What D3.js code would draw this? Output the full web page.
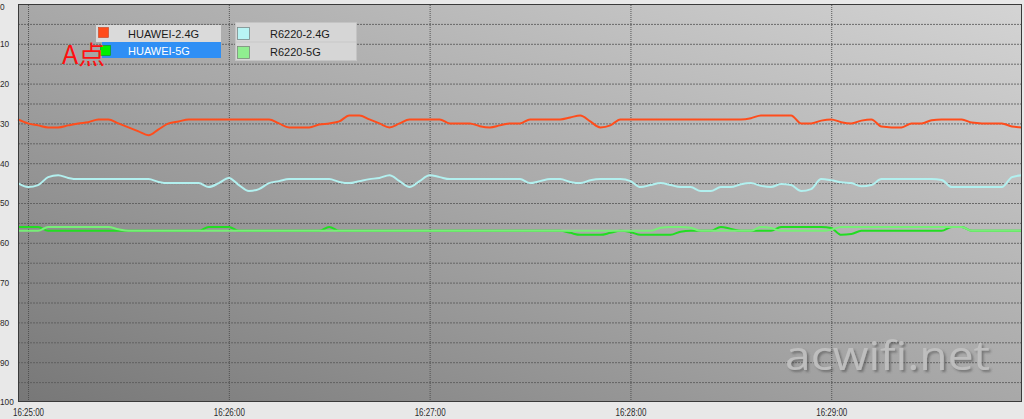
<!DOCTYPE html>
<html>
<head>
<meta charset="utf-8">
<script src="https://cdn.jsdelivr.net/npm/d3@7"></script>
<style>
  html, body { margin: 0; padding: 0; background: #e8e8e8; }
  svg { display: block; }
</style>
</head>
<body>
<svg id="chart" width="1024" height="419"></svg>
<script>
// ---------------- data ----------------
const seriesNames = ["HUAWEI-2.4G", "HUAWEI-5G", "R6220-2.4G", "R6220-5G"];
const startTime = "16:24:57";
const sampleSeconds = 3;           // one reading every 3 s
const xTickLabels = ["16:25:00", "16:26:00", "16:27:00", "16:28:00", "16:29:00"];
const yTickLabels = [0, 10, 20, 30, 40, 50, 60, 70, 80, 90, 100];

const huawei24 = [
  29,30,30.5,31,31,30.5,30,29.7,29,29,
  30,31,32,33,31.5,30,29.5,29,29,29,
  29,29,29,29,29,29,30,31,31,31,
  30.3,30,29.5,28,28,29,30,31,30,29,
  29,29,29,30,30,30,30.7,31,30.5,30,
  30,29,29,29,29,28.5,28,29.5,31,30.5,
  29,29,29,29,29,29,29,29,29,29,
  29,29,29,28.7,28,28,28,28,30,30,
  29.3,29,29.7,30,29.3,29,30.8,31,31,30,
  30,29.2,29,29,29,29.8,30,30,30,30.8,31
];
const huawei5 = [
  56,56,56,57,57,57,57,57,57,57,
  57,57,57,57,57,57,57,57,57,56,
  56,56,57,57,57,57,57,57,57,57,
  57,56,57,57,57,57,57,57,57,57,
  57,57,57,57,57,57,57,57,57,57,
  57,57,57,57,57,57.5,58,58,58,57.5,
  57,57.3,58,58,58,58,57.2,57,57,57,
  56,56.5,57,57,57,57,56,56,56,56,
  56,56.3,58,57.8,57,57,57,57,57,57,
  57,57,57,56,56,57,57,57,57,57,57
];
const r6220_24 = [
  45,46,45.5,43.5,43,43.7,44,44,44,44,
  44,44,44,44,44.7,45,45,45,45,46,
  45,43.7,45.5,47,46.5,45,44.5,44,44,44,
  44,44,44.7,45,44.5,44,43.7,43,44.5,46,
  44.5,43,43.5,44,44,44,44,44,44,44,
  44,45,44.5,44,44,44.7,45,44.3,44,44,
  44,44.5,46,45.5,45,45.5,46,46,47,47,
  46,46,45.3,45,45.7,46,45.2,45.5,47,46.5,
  44,44.3,44.8,45,45.8,45.5,44,44,44,44,
  44,44,44.2,46,46,46,46,46,46,43.5,43
];
const r6220_5 = [
  57,57,57,56,56,56,56,56,56,56,
  56.6,57,57,57,57,57,57,57,57,57,
  57,57,57,57,57,57,57,57,57,57,
  57,57,57,57,57,57,57,57,57,57,
  57,57,57,57,57,57,57,57,57,57,
  57,57,57,57,57,57,57,57,57,57,
  57,57,57,57,56.2,56,56,56.2,57,57,
  57,57,57,57,56,56.3,57,57,57,57,
  57,56.7,56,56,56,56,56,56,56,56,
  56,56,56,56,56,57,57,57,57,57,57
];
const seriesValues = [huawei24, huawei5, r6220_24, r6220_5];
const lineColors = ["#ff4d1c", "#22dd22", "#b2f0ef", "#78ee78"];
const swatchColors = ["#ff4a1a", "#00ee00", "#b8f4f4", "#90ee90"];

// ---------------- layout ----------------
const svg = d3.select("#chart");
const W = 1024, H = 419;
const plot = { left: 18, right: 1022, top: 4, bottom: 402 };

const parseT = d3.timeParse("%H:%M:%S");
const t0 = parseT(startTime);
const nPts = huawei24.length;
const t1 = new Date(t0.getTime() + (nPts - 1) * sampleSeconds * 1000);
const times = d3.range(nPts).map(i => new Date(t0.getTime() + i * sampleSeconds * 1000));

const x = d3.scaleTime().domain([t0, t1]).range([plot.left, plot.right]);
const y = d3.scaleLinear().domain([0, 100]).range([plot.top, plot.bottom]);

svg.append("rect").attr("width", W).attr("height", H).attr("fill", "#e8e8e8");

const defs = svg.append("defs");
const grad = defs.append("linearGradient").attr("id", "bg")
  .attr("x1", 0).attr("y1", 1).attr("x2", 1).attr("y2", 0);
grad.append("stop").attr("offset", "0%").attr("stop-color", "#777777");
grad.append("stop").attr("offset", "50%").attr("stop-color", "#a8a8a8");
grad.append("stop").attr("offset", "100%").attr("stop-color", "#d4d4d4");

const shadow = defs.append("filter").attr("id", "wmShadow")
  .attr("x", "-10%").attr("y", "-20%").attr("width", "130%").attr("height", "150%");
shadow.append("feDropShadow").attr("dx", 2).attr("dy", 2).attr("stdDeviation", 1.2)
  .attr("flood-color", "#4a4a4a").attr("flood-opacity", 0.6);

svg.append("rect")
  .attr("x", plot.left).attr("y", plot.top)
  .attr("width", plot.right - plot.left).attr("height", plot.bottom - plot.top)
  .attr("fill", "url(#bg)");

// horizontal grid every 5
const yGrid = d3.axisLeft(y).tickValues(d3.range(5, 100, 5))
  .tickSize(-(plot.right - plot.left)).tickFormat("");
const gy = svg.append("g").attr("transform", `translate(${plot.left},0)`).call(yGrid);
gy.select(".domain").remove();
gy.selectAll("line").attr("stroke", "#5a5a5a").attr("stroke-width", 1)
  .attr("stroke-dasharray", "2,1").attr("opacity", 0.85);

// vertical grid at each minute
const xTicks = xTickLabels.map(s => parseT(s));
const xGrid = d3.axisBottom(x).tickValues(xTicks)
  .tickSize(-(plot.bottom - plot.top)).tickFormat("");
const gx = svg.append("g").attr("transform", `translate(0,${plot.bottom})`).call(xGrid);
gx.select(".domain").remove();
gx.selectAll("line").attr("stroke", "#4a4a4a").attr("stroke-width", 1)
  .attr("stroke-dasharray", "1,1").attr("opacity", 0.9);

// watermark
svg.append("text")
  .attr("x", 785).attr("y", 370)
  .attr("font-family", "'Open Sans', sans-serif")
  .attr("font-size", 40)
  .attr("textLength", 205).attr("lengthAdjust", "spacingAndGlyphs")
  .attr("fill", "#c2c2c2").attr("fill-opacity", 0.9)
  .attr("filter", "url(#wmShadow)")
  .text("acwifi.net");

// lines
const line = d3.line()
  .x((d, i) => x(times[i]))
  .y(d => y(d))
  .curve(d3.curveMonotoneX);

const gLines = svg.append("g");
seriesValues.forEach((vals, k) => {
  gLines.append("path")
    .datum(vals)
    .attr("fill", "none")
    .attr("stroke", lineColors[k])
    .attr("stroke-width", 2)
    .attr("stroke-linejoin", "round")
    .attr("d", line);
});

// plot border
svg.append("rect")
  .attr("x", plot.left + 0.5).attr("y", plot.top + 0.5)
  .attr("width", plot.right - plot.left - 1).attr("height", plot.bottom - plot.top - 1)
  .attr("fill", "none").attr("stroke", "#3a3a3a").attr("stroke-width", 1);

// x axis labels
const xAxis = d3.axisBottom(x).tickValues(xTicks).tickSize(0)
  .tickFormat(d3.timeFormat("%H:%M:%S"));
const ax = svg.append("g").attr("transform", `translate(0,${plot.bottom})`).call(xAxis);
ax.select(".domain").remove();
ax.selectAll("text")
  .attr("y", 7).attr("dy", "0.71em")
  .attr("font-family", "'Liberation Sans', Arial, sans-serif")
  .attr("font-size", 10)
  .attr("textLength", 31).attr("lengthAdjust", "spacingAndGlyphs")
  .attr("fill", "#2a2a2a");

// y axis labels (left aligned at the window edge)
const yAxis = d3.axisLeft(y).tickValues(yTickLabels).tickSize(0);
const ay = svg.append("g").attr("transform", `translate(${plot.left},0)`).call(yAxis);
ay.select(".domain").remove();
ay.selectAll("text")
  .attr("x", -plot.left).attr("text-anchor", "start")
  .attr("font-family", "'Liberation Sans', Arial, sans-serif")
  .attr("font-size", 9)
  .attr("textLength", d => String(d).length * 4.6)
  .attr("lengthAdjust", "spacingAndGlyphs")
  .attr("fill", "#2a2a2a");
ay.selectAll(".tick").filter(d => d === 0).select("text").attr("dy", "0.95em").attr("y", -3);

// legend box 1
const lg = svg.append("g").attr("font-family", "'Liberation Sans', Arial, sans-serif").attr("font-size", 11);
lg.append("rect").attr("x", 96).attr("y", 25).attr("width", 125).attr("height", 17).attr("fill", "#dadada");
lg.append("rect").attr("x", 102).attr("y", 42).attr("width", 119).attr("height", 16).attr("fill", "#2f8ff5");
lg.append("rect").attr("x", 98.5).attr("y", 27.5).attr("width", 10).attr("height", 10)
  .attr("fill", swatchColors[0]).attr("stroke", "#c04020").attr("stroke-width", 0.6);
lg.append("rect").attr("x", 100.5).attr("y", 45.5).attr("width", 10).attr("height", 10)
  .attr("fill", swatchColors[1]).attr("stroke", "#109010").attr("stroke-width", 0.6);
lg.append("text").attr("x", 128).attr("y", 37.5).attr("fill", "#1a1a1a").text(seriesNames[0]);
lg.append("text").attr("x", 128).attr("y", 54.5).attr("fill", "#ffffff").text(seriesNames[1]);

// legend box 2
lg.append("rect").attr("x", 235.5).attr("y", 22.5).attr("width", 121).attr("height", 38)
  .attr("fill", "#d6d6d6").attr("stroke", "#c4c4c4").attr("stroke-width", 1);
lg.append("line").attr("x1", 236).attr("x2", 356).attr("y1", 42).attr("y2", 42)
  .attr("stroke", "#c8c8c8");
lg.append("rect").attr("x", 237.5).attr("y", 27.5).attr("width", 12).attr("height", 12)
  .attr("fill", swatchColors[2]).attr("stroke", "#7a8a8a").attr("stroke-width", 0.8);
lg.append("rect").attr("x", 237.5).attr("y", 46.5).attr("width", 12).attr("height", 12)
  .attr("fill", swatchColors[3]).attr("stroke", "#7a8a7a").attr("stroke-width", 0.8);
lg.append("text").attr("x", 270).attr("y", 37.5).attr("fill", "#1a1a1a").text(seriesNames[2]);
lg.append("text").attr("x", 270).attr("y", 56).attr("fill", "#1a1a1a").text(seriesNames[3]);

// annotation
svg.append("text")
  .attr("x", 62).attr("y", 64)
  .attr("font-family", "'Noto Sans CJK SC', sans-serif")
  .attr("font-size", 25)
  .attr("textLength", 43).attr("lengthAdjust", "spacingAndGlyphs")
  .attr("fill", "#ff1010")
  .text("A点");
</script>
</body>
</html>
